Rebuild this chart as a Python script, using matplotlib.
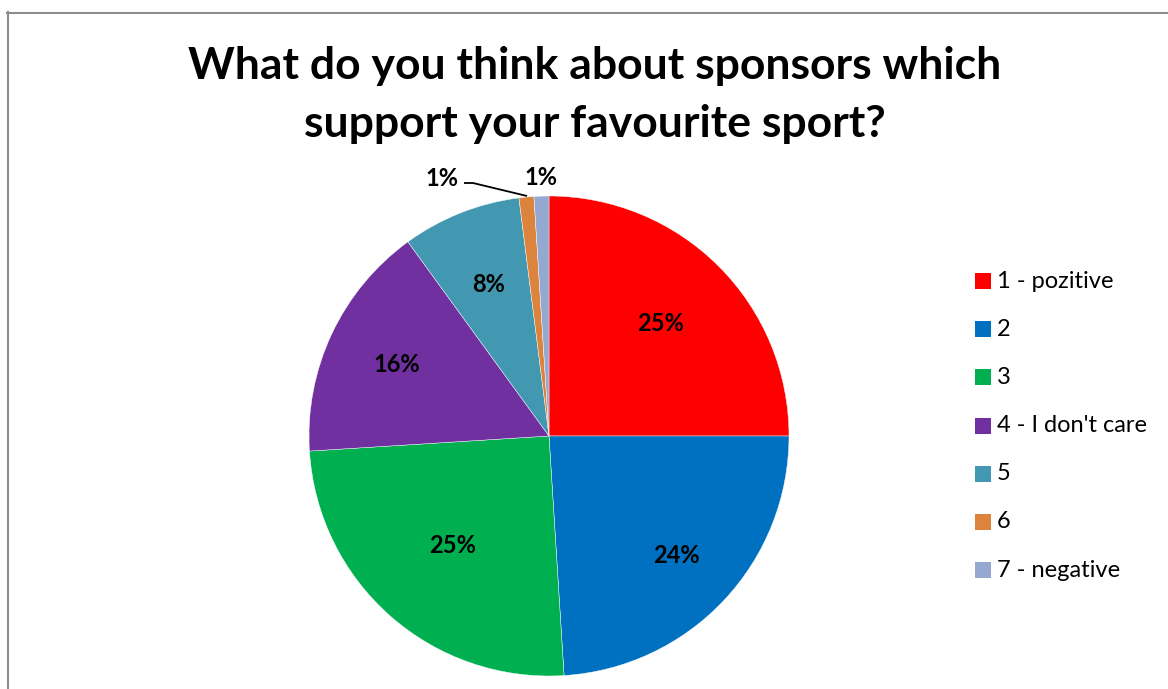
import numpy as np
import matplotlib
matplotlib.use("Agg")
import matplotlib.pyplot as plt
from matplotlib.lines import Line2D

categories = ["1 - pozitive", "2", "3", "4 - I don't care", "5", "6", "7 - negative"]
values = [25, 24, 25, 16, 8, 1, 1]
colors = ["#FF0000", "#0070C0", "#00B050", "#7030A0", "#4298B0", "#DC843E", "#94A8D2"]
title = "What do you think about sponsors which\nsupport your favourite sport?"

W, H = 1168, 689
fig = plt.figure(figsize=(W / 100, H / 100), dpi=100)
fig.patch.set_facecolor("white")

font = "Lato"

# pie axes: centre at (549, 436) px, radius 240 px
cx, cy, r = 549, 436, 240
ax = fig.add_axes([(cx - r) / W, (H - cy - r) / H, 2 * r / W, 2 * r / H])
wedges, _ = ax.pie(values, colors=colors, startangle=90, counterclock=False,
                   radius=1.0, wedgeprops=dict(linewidth=0.3, edgecolor="white"))
ax.set_xlim(-1, 1)
ax.set_ylim(-1, 1)
ax.set_aspect("equal")
ax.axis("off")

# percent labels inside the larger wedges
inner_dist = [0.66, 0.73, 0.61, 0.70, 0.68]
total = sum(values)
cum = np.cumsum([0] + values)
for i, d in enumerate(inner_dist):
    mid = 90 - 360 * (cum[i] + values[i] / 2) / total
    x, y = d * np.cos(np.radians(mid)), d * np.sin(np.radians(mid))
    ax.text(x, y, f"{values[i] / total:.0%}", ha="center", va="center",
            fontsize=17, fontweight="bold", family=font, color="black")

# labels outside for the two thin wedges
def px(xp, yp):
    return ((xp - cx) / r, (cy - yp) / r)

lx, ly = px(442, 178)
ax.text(lx, ly, f"{values[5] / total:.0%}", ha="center", va="center",
        fontsize=17, fontweight="bold", family=font, color="black", clip_on=False)
p0, p1, p2 = px(464, 183), px(473, 183), px(527, 196)
ax.plot([p0[0], p1[0], p2[0]], [p0[1], p1[1], p2[1]], color="black", lw=1.3,
        clip_on=False, solid_capstyle="butt")

lx, ly = px(541, 177)
ax.text(lx, ly, f"{values[6] / total:.0%}", ha="center", va="center",
        fontsize=17, fontweight="bold", family=font, color="black", clip_on=False)

# title
fig.text(595 / W, 1 - 95 / H, title, ha="center", va="center", fontsize=32,
         fontweight="bold", family=font, linespacing=1.55, color="black")

# legend
leg_y0, leg_dy = 281, 48.2
for i, (cat, col) in enumerate(zip(categories, colors)):
    yy = leg_y0 + i * leg_dy
    fig.patches.append(plt.Rectangle((975 / W, 1 - (yy + 8) / H), 16 / W, 16 / H,
                                     transform=fig.transFigure, facecolor=col,
                                     edgecolor="none"))
    fig.text(997 / W, 1 - yy / H, cat, ha="left", va="center", fontsize=17,
             family=font, color="black")

# chart-area border (top and left edges)
fig.add_artist(Line2D([7 / W, 1.0], [1 - 12.5 / H, 1 - 12.5 / H],
                      transform=fig.transFigure, color="#8C8C8C", lw=1.5))
fig.add_artist(Line2D([7.5 / W, 7.5 / W], [1 - 12 / H, 0.0],
                      transform=fig.transFigure, color="#8C8C8C", lw=1.5))

fig.savefig("out.png", dpi=100)
